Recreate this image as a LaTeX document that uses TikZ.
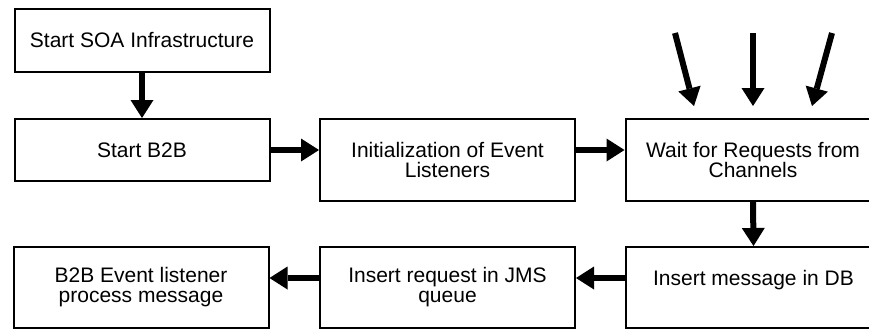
\documentclass[tikz,border=0pt]{standalone}
\usepackage{fontspec}
\setmainfont{Liberation Sans}
\usetikzlibrary{arrows.meta}

\begin{document}
\begin{tikzpicture}[x=1pt,y=-1pt,font=\fontsize{21}{20}\selectfont,
  box/.style={draw,line width=2pt,rectangle,align=center,inner sep=0pt,minimum width=255pt},
  flow/.style={-{Triangle[length=18pt,width=23pt,line width=0pt]},line width=6pt}]
  \useasboundingbox (0,0) rectangle (869,330);
  % top row
  \node[box,minimum height=63pt] (soa) at (142,40.5) {Start SOA Infrastructure};
  \node[box,minimum height=62pt] (b2b) at (142,150) {Start B2B};
  \node[box,minimum height=82pt] (init) at (447.5,160) {Initialization of Event\\Listeners};
  \node[box,minimum height=82pt] (wait) at (753,160) {Wait for Requests from\\Channels};
  % bottom row
  \node[box,minimum height=81pt] (db) at (753.5,287.5) {Insert message in DB\\\mbox{}};
  \node[box,minimum height=81pt] (jms) at (447.5,287.5) {Insert request in JMS\\queue};
  \node[box,minimum height=81pt] (evt) at (141,287.5) {B2B Event listener\\process message};

  \draw[flow] (soa.south) -- (b2b.north);
  \draw[flow] (b2b.east) -- (b2b.east -| init.west);
  \draw[flow] (b2b.east -| init.east) -- (b2b.east -| wait.west);
  \draw[flow] (wait.south) -- (db.north);
  \draw[flow] ([yshift=9.5pt]db.west) -- ([yshift=9.5pt]jms.east);
  \draw[flow] ([yshift=9.5pt]jms.west) -- ([yshift=9.5pt]evt.east);

  % requests coming in from the channels
  \foreach \i/\sx/\tx in {1/675/694,2/753/753,3/832/812} {
    \coordinate (ch\i) at (\sx,33);
    \coordinate (in\i) at (\tx,106);
    \draw[flow] (ch\i) -- (in\i);
  }
\end{tikzpicture}
\end{document}
